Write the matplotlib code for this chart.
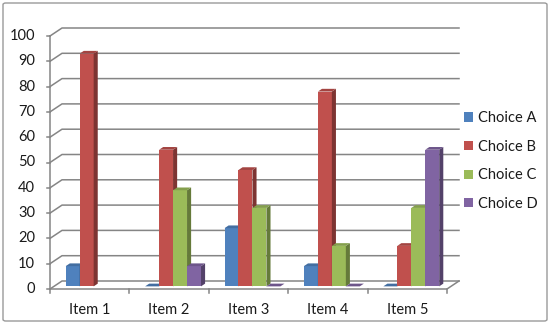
import numpy as np
import matplotlib
matplotlib.use("Agg")
import matplotlib.pyplot as plt
from matplotlib.patches import Polygon, Rectangle, FancyBboxPatch
from matplotlib.colors import to_rgb

plt.rcParams['font.family'] = ['Lato', 'DejaVu Sans']

items = ['Item 1', 'Item 2', 'Item 3', 'Item 4', 'Item 5']
series = ['Choice A', 'Choice B', 'Choice C', 'Choice D']
# None = no bar drawn (Item 1 has no C / D answers shown)
choice_a = [8, 0, 23, 8, 0]
choice_b = [92, 54, 46, 77, 16]
choice_c = [None, 38, 31, 16, 31]
choice_d = [None, 8, 0, 0, 54]
yticks = list(range(0, 101, 10))
colors = ['#4F81BD', '#C0504D', '#9BBB59', '#8064A2']

values = [choice_a, choice_b, choice_c, choice_d]

# pixel layout of the plot area (550x324 figure, 100 dpi)
W, H = 550, 324
px_left, px_right = 50, 447      # front floor, x=-0.5 .. 4.5
px_y0, px_y100 = 289, 36          # front axis, from top
ux = (px_right - px_left) / len(items)
uy = (px_y0 - px_y100) / 100.0

fig = plt.figure(figsize=(W / 100, H / 100), dpi=100)
ax = fig.add_axes([0, 0, 1, 1])
x_lo = -0.5 - px_left / ux
ax.set_xlim(x_lo, x_lo + W / ux)
y_lo = -(H - px_y0) / uy
ax.set_ylim(y_lo, y_lo + H / uy)
ax.axis('off')

DX = 12 / ux     # wall depth
DY = 8 / uy
x0, xR = -0.5, len(items) - 0.5
grid_c = '#858585'

# gridlines / walls
for v in yticks:
    ax.plot([x0, x0 + DX, xR + DX], [v, v + DY, v + DY], color=grid_c, lw=1.1, zorder=1)
    ax.plot([x0 - 3 / ux, x0], [v, v], color=grid_c, lw=1.1, zorder=1)
    ax.text(x0 - 15 / ux, v, str(v), ha='right', va='center', fontsize=10.5, color='#1a1a1a')
ax.plot([x0, x0], [0, 100], color=grid_c, lw=1.1, zorder=1)
ax.plot([x0, xR, xR + DX], [0, 0, DY], color=grid_c, lw=1.1, zorder=1)
for i in range(len(items) + 1):
    ax.plot([x0 + i, x0 + i], [0, -4 / uy], color=grid_c, lw=1.1, zorder=1)
for i, name in enumerate(items):
    ax.text(i, -21 / uy, name, ha='center', va='center', fontsize=10.5, color='#1a1a1a')


def shade(c, f):
    r, g, b = to_rgb(c)
    return (r * f, g * f, b * f)


bw = 0.176
gap = (1 - bw * len(series)) / 2
d0 = 0.33
bdx, bdy = 0.34 * DX, 0.34 * DY
z = 3
for i in range(len(items)):
    for j, vals in enumerate(values):
        v = vals[i]
        if v is None:
            continue
        xl = i - 0.5 + gap + j * bw + d0 * DX
        yb = d0 * DY
        c = colors[j]
        front = Rectangle((xl, yb), bw, v, facecolor=c, edgecolor='none', zorder=z)
        side = Polygon([(xl + bw, yb), (xl + bw + bdx, yb + bdy), (xl + bw + bdx, yb + v + bdy),
                        (xl + bw, yb + v)], facecolor=shade(c, 0.65), edgecolor='none', zorder=z)
        top = Polygon([(xl, yb + v), (xl + bw, yb + v), (xl + bw + bdx, yb + v + bdy),
                       (xl + bdx, yb + v + bdy)], facecolor=shade(c, 0.85), edgecolor='none', zorder=z)
        ax.add_patch(front)
        ax.add_patch(side)
        ax.add_patch(top)
        z += 1

handles = [Rectangle((0, 0), 1, 1, facecolor=c, edgecolor='none') for c in colors]
leg = ax.legend(handles, series, loc='center left', bbox_to_anchor=(457 / W, 1 - 161 / H),
                frameon=False, fontsize=10.5, handlelength=0.6, handleheight=0.6,
                handletextpad=0.35, labelspacing=1.0, borderpad=0)
for t in leg.get_texts():
    t.set_color('#1a1a1a')

border = FancyBboxPatch((3 / W, 3 / H), 544 / W, 318 / H, boxstyle='round,pad=0,rounding_size=0.005',
                        transform=fig.transFigure, facecolor='none', edgecolor='#9a9a9a', lw=1.0)
fig.patches.append(border)

fig.savefig('out.png', dpi=100)
